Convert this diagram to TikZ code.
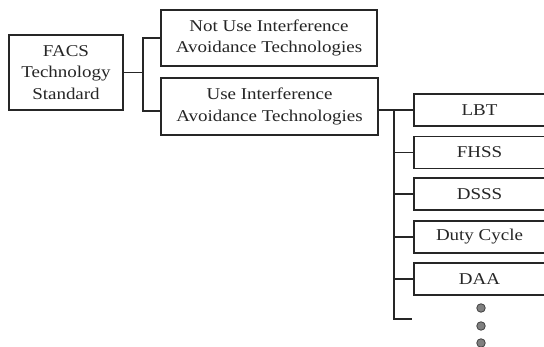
\documentclass[tikz,border=0pt]{standalone}
\usepackage{fontspec}
\setmainfont[FakeStretch=1.15]{Liberation Serif}
\begin{document}
\begin{tikzpicture}[x=1pt,y=-1pt,
  box/.style={draw=black!85,line width=1.2pt,fill=white,align=center,inner sep=0pt,
    font=\fontsize{16.5}{21.5}\selectfont,text=black!85},
  childbox/.style={box,minimum width=131pt,minimum height=32pt},
  conn/.style={draw=black!85,line width=1.2pt},
  dot/.style={circle,draw=black!75,fill=black!50,line width=0.8pt,minimum size=8.5pt,inner sep=0pt}]
\useasboundingbox (0,0) rectangle (544,347);
\node[box,minimum width=114pt,minimum height=75pt] (facs) at (66,72.5) {FACS\\Technology\\Standard};
\node[box,minimum width=216pt,minimum height=56pt] (notuse) at (269,38) {Not Use Interference\\Avoidance Technologies};
\node[box,minimum width=217pt,minimum height=57pt] (use) at (269.5,106.5) {Use Interference\\Avoidance Technologies};
\node[childbox] (lbt) at (479.5,110) {LBT};
\node[childbox] (fhss) at (479.5,152.5) {FHSS};
\node[childbox] (dsss) at (479.5,194) {DSSS};
\node[childbox] (duty) at (479.5,237) {Duty Cycle};
\node[childbox] (daa) at (479.5,279) {DAA};
\coordinate (s1) at (143,72.5);
\coordinate (t0) at (394,110);
\coordinate (tend) at (394,319);
\coordinate (bend) at (412,319);
\node[dot] (d1) at (481,308) {};
\node[dot] (d2) at (481,326) {};
\node[dot] (d3) at (481,343) {};
\path[conn] (facs.east |- s1) -- (s1);
\path[conn] (notuse.west) -| (s1) |- ([yshift=-4.5pt]use.west);
\path[conn] (use.east |- lbt.west) -- (lbt.west);
\path[conn] (t0) -- (tend) -- (bend);
\path[conn] (t0 |- fhss.west) -- (fhss.west);
\path[conn] (t0 |- dsss.west) -- (dsss.west);
\path[conn] (t0 |- duty.west) -- (duty.west);
\path[conn] (t0 |- daa.west) -- (daa.west);
\end{tikzpicture}
\end{document}
